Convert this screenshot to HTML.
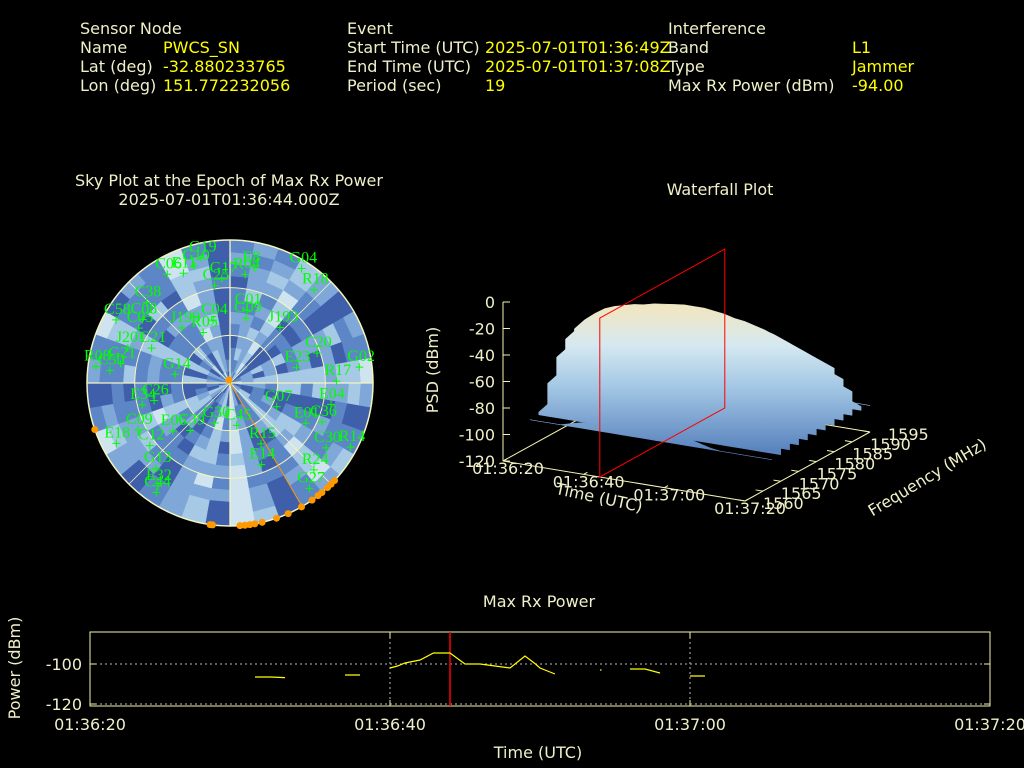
<!DOCTYPE html>
<html><head><meta charset="utf-8">
<style>
html,body{margin:0;padding:0;background:#000;}
body{width:1024px;height:768px;overflow:hidden;position:relative;font-family:"DejaVu Sans","Liberation Sans",sans-serif;}
svg{position:absolute;left:0;top:0;}
</style></head>
<body>
<svg id="chart" width="1024" height="768" viewBox="0 0 1024 768" xmlns="http://www.w3.org/2000/svg" font-family="DejaVu Sans, Liberation Sans, sans-serif" font-size="16">
<defs>
<linearGradient id="surfGrad" gradientUnits="userSpaceOnUse" x1="0" y1="310" x2="0" y2="450">
<stop offset="0" stop-color="#efe6c4"/>
<stop offset="0.25" stop-color="#d6e9f1"/>
<stop offset="0.55" stop-color="#a3c7e4"/>
<stop offset="1" stop-color="#5a84bf"/>
</linearGradient>
</defs>
<g id="header">
<g fill="#f0f0c8">
<text x="80" y="34">Sensor Node</text>
<text x="80" y="53">Name</text>
<text x="80" y="72">Lat (deg)</text>
<text x="80" y="91">Lon (deg)</text>
<text x="347" y="34">Event</text>
<text x="347" y="53">Start Time (UTC)</text>
<text x="347" y="72">End Time (UTC)</text>
<text x="347" y="91">Period (sec)</text>
<text x="668" y="34">Interference</text>
<text x="668" y="53">Band</text>
<text x="668" y="72">Type</text>
<text x="668" y="91">Max Rx Power (dBm)</text>
</g>
<g fill="#ffff00">
<text x="163" y="53">PWCS_SN</text>
<text x="163" y="72">-32.880233765</text>
<text x="163" y="91">151.772232056</text>
<text x="485" y="53">2025-07-01T01:36:49Z</text>
<text x="485" y="72">2025-07-01T01:37:08Z</text>
<text x="485" y="91">19</text>
<text x="852" y="53">L1</text>
<text x="852" y="72">Jammer</text>
<text x="852" y="91">-94.00</text>
</g>
</g>
<g fill="#f0f0c8" text-anchor="middle">
<text x="229" y="186">Sky Plot at the Epoch of Max Rx Power</text>
<text x="229" y="205">2025-07-01T01:36:44.000Z</text>
<text x="720" y="195">Waterfall Plot</text>
<text x="539" y="607">Max Rx Power</text>
</g>
<g id="sky"></g>
<g id="wf"></g>
<g id="ts"></g>
</svg>
<script>
// ---------- Sky plot data ----------
const satNames = ["G19","G10","E11","C06","G17","C25","R04","E8","G04","R18","G09","C01","J193","C20","E23","G02","R17","E04","G07","E01","C36","C30","R14","R15","E14","R24","G27","C45","G30","C39","E06","C12","G13","E32","C44","E18","C09","E34","C26","G14","C21","G21","R08","C50","J201","C05","C08","C58","C38","J199","R05","C04"];
const satAz = [347,343,337,330,355.5,351,8,12,32,42,14,13,42,71,77,83,89,102,117,118,113,124,118,153,159,136,143,171,201,220,230,232,221,215,214,242,243,256,257,279,294,280,277,276,289,301,306,299,314,319,332,345];
const satEl = [9,13,15,11,24,28,21,16,5,11,48,43,43,32,47,8,23,25,57,36,27,17,4,47,35,14,7,63,63,51,43,26,19,11,7,9,25,33,41,55,36,20,5,14,22,23,22,8,17,44,54,49];
const jamAz = [133,135,137,140,142,145,150,156,161,167,170,172,174,176,187,188,251];
const jamEl = [0,0,0,0,0,0,0,0,0,0,0,0,0,0,0,0,0];
const zenithAz = [340];
const zenithEl = [88];
const bearingAz = [149.7];
// heatmap background: per-sector base level (0 dark .. 4 pale) and per-ring modifiers (0:-1, 1:0, 2:+1)
const sectorBase = "122310213201231024132012310213021320";
const ringMods = [
"110121011201102112011021120110211201",
"101210120110211012011201102110120112",
"121101201121011201210112011201210110",
"011201121012011210120112101201121011",
"112011201210112011210120112011201210",
"210112011201210112011201121011201121",
"101201121011201210112011201121012011",
"120112101201121011201210112011201211",
"011210120112011201121012011210120112",
"112011201121012011201121012011201120",
"201121011201121012011201121011201210",
"110120112101201121011201210112011201"];

// ---------- Waterfall data ----------
const wfTimes = [0,2.5,5,7.5,10,12.5,15,17.5,20,22.5,25,27.5,30,32.5,35,37.5,40,42.5,45,47.5,50,52.5,55,57.5,60];
const wfTimeLevel = [-50,-42,-36,-31,-28,-26,-25,-23,-22,-21,-20,-20,-20,-21,-22,-24,-25,-27,-29,-32,-35,-38,-41,-44,-47];
const wfFreqs = [1595,1592.5,1590,1587.5,1585,1582.5,1580,1577.5,1575,1572.5,1570,1567.5,1565,1562.5,1560];
const wfFreqProfile = [-70,-50,-35,-22,-10,-3,0,-4,-14,-30,-48,-70,-92,-105,-110];
const wfZTicks = [0,-20,-40,-60,-80,-100,-120];
const wfTimeTicks = ["01:36:20","01:36:40","01:37:00","01:37:20"];
const wfTimeTickVals = [0,20,40,60];
const wfFreqTicks = [1560,1565,1570,1575,1580,1585,1590,1595];
const wfMarkerTime = [24];

// ---------- Max Rx power series (seconds after 01:36:20, NaN = gap) ----------
const tsTimes = [11,12,13,NaN,17,18,NaN,20,20.5,21,22,22.9,24,25,26,26.5,28,29,29.7,30,31,NaN,34,34.1,NaN,36,37,38,NaN,40,41];
const tsPower = [-106.5,-106.5,-106.8,NaN,-105.5,-105.5,NaN,-102,-101,-99.5,-98,-94.5,-94.5,-100,-100,-100.5,-102,-96,-100,-102,-105,NaN,-103,-103,NaN,-102.5,-102.5,-104.5,NaN,-106,-106];
const tsXTicks = ["01:36:20","01:36:40","01:37:00","01:37:20"];
const tsXTickVals = [0,20,40,60];
const tsYTicks = [-100,-120];
const tsMarker = [24];

const NS="http://www.w3.org/2000/svg";
function mk(tag, attrs, parent){const e=document.createElementNS(NS,tag);for(const k in attrs)e.setAttribute(k,attrs[k]);parent.appendChild(e);return e;}

// ===== Sky plot =====
(function(){
const g=document.getElementById('sky');
const cx=230, cy=383, R=143;
const colors=["#3f5fab","#5c86c5","#7fa8d8","#a6c9e6","#cfe4ef"];
function pos(az,el){const r=(90-el)/90*R;const a=az*Math.PI/180;return [cx+r*Math.sin(a), cy-r*Math.cos(a)];}
const nR=ringMods.length;
for(let i=0;i<nR;i++){
  const r0=R*i/nR, r1=R*(i+1)/nR;
  for(let j=0;j<36;j++){
    const a0=j*10*Math.PI/180, a1=(j+1)*10*Math.PI/180;
    let lv=(+sectorBase[j])+(+ringMods[i][j])-1;
    lv=Math.max(0,Math.min(4,lv));
    const p=[[r0,a0],[r1,a0],[r1,a1],[r0,a1]].map(([r,a])=>(cx+r*Math.sin(a)).toFixed(1)+","+(cy-r*Math.cos(a)).toFixed(1)).join(" ");
    const c=mk('polygon',{points:p,fill:colors[lv],stroke:colors[lv],'stroke-width':0.6},g);
    
    
  }
}
[R, R*2/3, R/3].forEach((r,i)=>{
  const c=mk('circle',{cx:cx,cy:cy,r:r,fill:'none',stroke:'#f5f5c0','stroke-width':i==0?1.5:1},g);
  
  
});
for(let a=0;a<360;a+=45){
  const [x,y]=pos(a,0);
  const l=mk('line',{x1:cx,y1:cy,x2:x,y2:y,stroke:'#f5f5c0','stroke-width':a%90==0?1.3:0.8},g);
  
  
}
const [bx,by]=pos(bearingAz[0],0);
const bl=mk('line',{x1:cx,y1:cy,x2:bx,y2:by,stroke:'#ff9900','stroke-width':1},g);


jamAz.forEach((az,i)=>{
  const [x,y]=pos(az,jamEl[i]);
  const d=mk('circle',{cx:x,cy:y,r:3.5,fill:'#ff9900'},g);
  
  
});
zenithAz.forEach((az,i)=>{
  const [x,y]=pos(az,zenithEl[i]);
  const d=mk('circle',{cx:x,cy:y,r:3.5,fill:'#ff9900'},g);
  
  
});
satNames.forEach((n,i)=>{
  const [x,y]=pos(satAz[i],satEl[i]);
  const s=mk('g',{},g);
  
  
  mk('path',{d:`M${x-4},${y}h8M${x},${y-4}v8`,stroke:'#00ff00','stroke-width':1},s);
  const t=mk('text',{x:x-12,y:y-6,fill:'#00ff00','font-family':'Liberation Serif, serif','font-size':16},s);
  t.textContent=n;
});
})();

// ===== Waterfall =====
(function(){
const g=document.getElementById('wf');
const O=[503,461], TV=[242,40], FV=[125,-69], ZS=159/120;
function P(t,f,z){const a=t/60,b=(f-1560)/35;return [O[0]+a*TV[0]+b*FV[0], O[1]+a*TV[1]+b*FV[1]-(z+120)*ZS];}
function pt(p){return p[0].toFixed(1)+","+p[1].toFixed(1);}
const ax='#f5f5b0';
[[[0,1560],[60,1560]],[[60,1560],[60,1595]],[[0,1560],[0,1595]],[[0,1595],[60,1595]]].forEach(e=>{
  const a=P(e[0][0],e[0][1],-120), b=P(e[1][0],e[1][1],-120);
  const l=mk('line',{x1:a[0],y1:a[1],x2:b[0],y2:b[1],stroke:ax,'stroke-width':1},g);
  
  
});
const za=P(0,1560,0), zb=P(0,1560,-120);
const zl=mk('line',{x1:za[0],y1:za[1],x2:zb[0],y2:zb[1],stroke:ax,'stroke-width':1},g);


wfZTicks.forEach(v=>{
  const p=P(0,1560,v);
  mk('line',{x1:p[0],y1:p[1],x2:p[0]+7,y2:p[1],stroke:ax},g);
  const t=mk('text',{x:p[0]-8,y:p[1]+6,fill:'#f0f0c8','text-anchor':'end'},g);
  
  
  t.textContent=v;
});
const zt=mk('text',{x:438,y:370,fill:'#f0f0c8','text-anchor':'middle',transform:'rotate(-90 438 370)'},g);


zt.textContent='PSD (dBm)';
const FLOOR=-100;
wfFreqs.forEach((f,fi)=>{
  const top=[], bot=[];
  let any=false;
  wfTimes.forEach((t,ti)=>{
    const z=Math.max(FLOOR,Math.min(0,wfTimeLevel[ti]+wfFreqProfile[fi]));
    if(z>FLOOR+8) any=true;
    top.push(pt(P(t,f,z)));
  });
  if(!any) return;
  for(let ti=wfTimes.length-1;ti>=0;ti--) bot.push(pt(P(wfTimes[ti],f,FLOOR)));
  const p=mk('polygon',{points:top.concat(bot).join(" "),fill:'url(#surfGrad)',stroke:'url(#surfGrad)','stroke-width':0.5},g);
  
  
});
wfTimeTickVals.forEach((v,i)=>{
  const p=P(v,1560,-120);
  mk('line',{x1:p[0],y1:p[1],x2:p[0]+FV[0]*0.03,y2:p[1]+FV[1]*0.03,stroke:ax},g);
  const t=mk('text',{x:p[0]+5,y:p[1]+13,fill:'#f0f0c8','text-anchor':'middle'},g);
  
  
  t.textContent=wfTimeTicks[i];
});
const tt=mk('text',{x:598,y:503,fill:'#f0f0c8','text-anchor':'middle',transform:'rotate(12 598 503)'},g);


tt.textContent='Time (UTC)';
wfFreqTicks.forEach(v=>{
  const p=P(60,v,-120);
  mk('line',{x1:p[0],y1:p[1],x2:p[0]-TV[0]*0.03,y2:p[1]-TV[1]*0.03,stroke:ax},g);
  const t=mk('text',{x:p[0]+18,y:p[1]+8,fill:'#f0f0c8'},g);
  
  
  t.textContent=v;
});
const ft=mk('text',{x:930,y:482,fill:'#f0f0c8','text-anchor':'middle',transform:'rotate(-31 930 482)'},g);


ft.textContent='Frequency (MHz)';
const m=wfMarkerTime[0];
const rp=[P(m,1560,-120),P(m,1595,-120),P(m,1595,0),P(m,1560,0)].map(pt).join(" ");
const r=mk('polygon',{points:rp,fill:'none',stroke:'#ff0000','stroke-width':1},g);


})();

// ===== Max Rx power time series =====
(function(){
const g=document.getElementById('ts');
const X0=90,X1=990,Y0=632,Y1=706;
const xs=t=>X0+t/60*(X1-X0);
const ys=v=>664+(-100-v)*2;
const ax='#f5f5b0';
const fr=mk('rect',{x:X0,y:Y0,width:X1-X0,height:Y1-Y0,fill:'none',stroke:ax,'stroke-width':1},g);


tsYTicks.forEach(v=>{
  const y=ys(v);
  if(y<Y1-1){const gl=mk('line',{x1:X0,y1:y,x2:X1,y2:y,stroke:'#bbbbbb','stroke-dasharray':'2,3'},g);
  }
  mk('line',{x1:X0,y1:y,x2:X0+6,y2:y,stroke:ax},g);
  mk('line',{x1:X1,y1:y,x2:X1-6,y2:y,stroke:ax},g);
  const t=mk('text',{x:X0-8,y:y+6,fill:'#f0f0c8','text-anchor':'end'},g);
  
  
  t.textContent=v;
});
tsXTickVals.forEach((v,i)=>{
  const x=xs(v);
  if(x>X0+1&&x<X1-1){const gl=mk('line',{x1:x,y1:Y0,x2:x,y2:Y1,stroke:'#bbbbbb','stroke-dasharray':'2,3'},g);
  }
  mk('line',{x1:x,y1:Y1,x2:x,y2:Y1-6,stroke:ax},g);
  mk('line',{x1:x,y1:Y0,x2:x,y2:Y0+6,stroke:ax},g);
  const t=mk('text',{x:x,y:730,fill:'#f0f0c8','text-anchor':'middle'},g);
  
  
  t.textContent=tsXTicks[i];
});
const mx=xs(tsMarker[0]);
const ml=mk('line',{x1:mx,y1:Y0,x2:mx,y2:Y1,stroke:'#ff0000','stroke-width':1.5},g);


let d='',pen=false;
tsTimes.forEach((t,i)=>{
  if(isNaN(t)||isNaN(tsPower[i])){pen=false;return;}
  d+=(pen?'L':'M')+xs(t).toFixed(1)+','+ys(tsPower[i]).toFixed(1);pen=true;
});
const ln=mk('path',{d:d,fill:'none',stroke:'#ffff00','stroke-width':1.2},g);


const yt=mk('text',{x:20,y:668,fill:'#f0f0c8','text-anchor':'middle',transform:'rotate(-90 20 668)'},g);


yt.textContent='Power (dBm)';
const xt=mk('text',{x:538,y:758,fill:'#f0f0c8','text-anchor':'middle'},g);


xt.textContent='Time (UTC)';
})();
</script>
</body></html>
